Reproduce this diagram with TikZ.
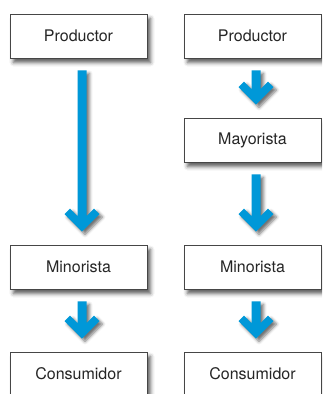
\documentclass[tikz,border=0pt]{standalone}
\usepackage{fontspec}
\setmainfont{TeX Gyre Heros}
\usetikzlibrary{calc,shadows.blur}
\definecolor{arrowblue}{RGB}{0,152,216}
\definecolor{boxline}{RGB}{70,70,70}
\tikzset{
  mybox/.style={draw=boxline, line width=0.9pt, fill=white, minimum width=137pt, minimum height=44pt,
    inner sep=0pt, font=\fontsize{16}{18}\selectfont, text=black!85,
    blur shadow={shadow xshift=3.5pt, shadow yshift=-4.5pt, shadow blur radius=4pt, shadow opacity=65}},
  myarrow/.style={fill=arrowblue,
    blur shadow={shadow xshift=3pt, shadow yshift=-3pt, shadow blur radius=3pt, shadow opacity=55}}
}
\newcommand\flowarrow[2]{%
  \path let \p1=($(#1.south)+(3.5,12)$), \p2=($(#2.north)+(3.5,-13)$) in
    [myarrow] (\x1-4.5pt,\y1) -- (\x1-4.5pt,\y2+15.5pt) -- (\x1-12pt,\y2+23pt) -- (\x1-17.5pt,\y2+17.5pt)
    -- (\x1,\y2) -- (\x1+17.5pt,\y2+17.5pt) -- (\x1+12pt,\y2+23pt) -- (\x1+4.5pt,\y2+15.5pt)
    -- (\x1+4.5pt,\y1) -- cycle;}
\begin{document}
\begin{tikzpicture}[x=1pt,y=-1pt]
\useasboundingbox (0,0) rectangle (322,394);
\clip (0,0) rectangle (322,394);
\node[mybox] (p1) at (78.5,36) {Productor};
\node[mybox] (m1) at (78.5,267) {Minorista};
\node[mybox] (c1) at (78.5,374) {Consumidor};
\node[mybox] (p2) at (252.5,36) {Productor};
\node[mybox] (y2) at (252.5,140) {Mayorista};
\node[mybox] (m2) at (252.5,267) {Minorista};
\node[mybox] (c2) at (252.5,374) {Consumidor};
\flowarrow{p1}{m1}
\flowarrow{m1}{c1}
\flowarrow{p2}{y2}
\flowarrow{y2}{m2}
\flowarrow{m2}{c2}
\end{tikzpicture}
\end{document}
